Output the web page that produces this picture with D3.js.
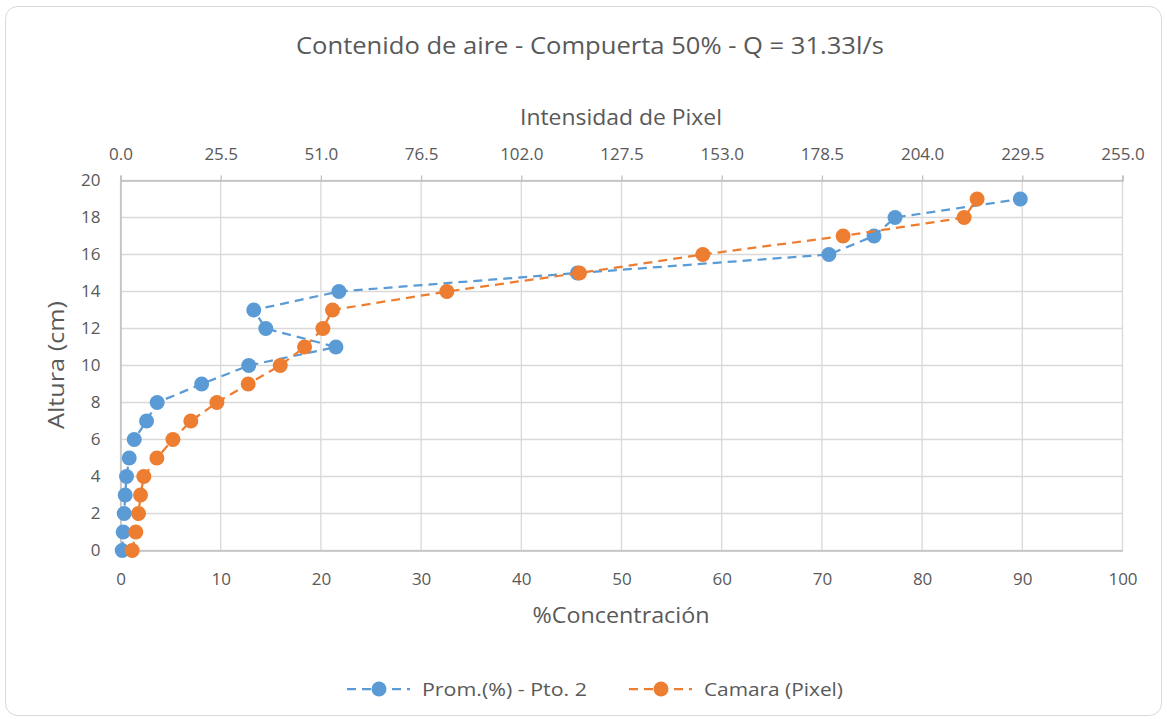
<!DOCTYPE html>
<html>
<head>
<meta charset="utf-8">
<script src="https://cdn.jsdelivr.net/npm/d3@7"></script>
<style>
  html, body { margin: 0; padding: 0; background: #fff; }
  svg text { font-family: "Open Sans", "Noto Sans", sans-serif; fill: #595959; }
</style>
</head>
<body>
<svg id="chart" width="1167" height="719"></svg>
<script>
// Heights (cm) shared by both series
const heights = [0, 1, 2, 3, 4, 5, 6, 7, 8, 9, 10, 11, 12, 13, 14, 15, 16, 17, 18, 19];
// Average air concentration (%) at point 2
const promValues = [0.17, 0.27, 0.37, 0.47, 0.6, 0.87, 1.37, 2.6, 3.66, 8.1, 12.8, 21.5, 14.5, 13.3, 21.8, 45.6, 70.7, 75.2, 77.3, 89.8];
// Camera pixel intensity (0-255)
const camaraValues = [2.98, 3.9, 4.59, 5.1, 5.94, 9.26, 13.34, 17.9, 24.53, 32.49, 40.65, 46.84, 51.51, 53.96, 83.05, 116.8, 148.2, 183.9, 214.7, 218.0];

const concTicks = [0, 10, 20, 30, 40, 50, 60, 70, 80, 90, 100];
const pixelTicks = [0, 25.5, 51, 76.5, 102, 127.5, 153, 178.5, 204, 229.5, 255];
const heightTicks = [0, 2, 4, 6, 8, 10, 12, 14, 16, 18, 20];

const seriesNames = ["Prom.(%) - Pto. 2", "Camara (Pixel)"];
const colors = ["#5B9BD5", "#ED7D31"];

const svg = d3.select("#chart");
const W = 1167, H = 719;
const plot = { left: 120.5, right: 1122.5, top: 180.5, bottom: 550.5 };

// outer chart frame
svg.append("rect")
  .attr("x", 5.5).attr("y", 6.5)
  .attr("width", W - 11).attr("height", H - 10)
  .attr("rx", 12).attr("ry", 12)
  .attr("fill", "#fff").attr("stroke", "#d9d9d9").attr("stroke-width", 1);

const xConc = d3.scaleLinear().domain([0, 100]).range([plot.left, plot.right]);
const xPix = d3.scaleLinear().domain([0, 255]).range([plot.left, plot.right]);
const y = d3.scaleLinear().domain([0, 20]).range([plot.bottom, plot.top]);

// gridlines
const grid = svg.append("g");
grid.selectAll("line.v").data(concTicks).join("line")
  .attr("x1", d => xConc(d)).attr("x2", d => xConc(d))
  .attr("y1", plot.top).attr("y2", plot.bottom)
  .attr("stroke", "#d9d9d9").attr("stroke-width", 1.3);
grid.selectAll("line.h").data(heightTicks).join("line")
  .attr("x1", plot.left).attr("x2", plot.right)
  .attr("y1", d => y(d)).attr("y2", d => y(d))
  .attr("stroke", "#d9d9d9").attr("stroke-width", 1.3);

// axes
const axisStyle = g => {
  g.select(".domain").attr("stroke", "#bfbfbf").attr("stroke-width", 1.5);
  g.selectAll(".tick line").attr("stroke", "#bfbfbf").attr("stroke-width", 1.3);
  g.selectAll(".tick text").style("font-size", "17px").attr("fill", "#595959");
};

svg.append("g")
  .attr("transform", `translate(0,${plot.bottom})`)
  .call(d3.axisBottom(xConc).tickValues(concTicks).tickSize(0).tickPadding(22).tickFormat(d3.format("d")))
  .call(axisStyle);

svg.append("g")
  .attr("transform", `translate(0,${plot.top})`)
  .call(d3.axisTop(xPix).tickValues(pixelTicks).tickSize(5).tickPadding(16).tickFormat(d3.format(".1f")))
  .call(axisStyle);

svg.append("g")
  .attr("transform", `translate(${plot.left},0)`)
  .call(d3.axisLeft(y).tickValues(heightTicks).tickSize(0).tickPadding(20).tickFormat(d3.format("d")))
  .call(axisStyle);

// titles
svg.append("text")
  .attr("x", 590).attr("y", 54).attr("text-anchor", "middle")
  .style("font-size", "23px")
  .attr("textLength", 588).attr("lengthAdjust", "spacingAndGlyphs")
  .text("Contenido de aire - Compuerta 50% - Q = 31.33l/s");

svg.append("text")
  .attr("x", 621).attr("y", 125).attr("text-anchor", "middle")
  .style("font-size", "21px")
  .attr("textLength", 202).attr("lengthAdjust", "spacingAndGlyphs")
  .text("Intensidad de Pixel");

svg.append("text")
  .attr("x", 621).attr("y", 623).attr("text-anchor", "middle")
  .style("font-size", "21px")
  .attr("textLength", 177).attr("lengthAdjust", "spacingAndGlyphs")
  .text("%Concentración");

svg.append("text")
  .attr("transform", "translate(64,365) rotate(-90)")
  .attr("text-anchor", "middle")
  .style("font-size", "21px")
  .attr("textLength", 128).attr("lengthAdjust", "spacingAndGlyphs")
  .text("Altura (cm)");

// series
const promData = heights.map((h, i) => ({ x: xConc(promValues[i]), y: y(h) }));
const camData = heights.map((h, i) => ({ x: xPix(camaraValues[i]), y: y(h) }));
const line = d3.line().x(d => d.x).y(d => d.y);

[promData, camData].forEach((data, k) => {
  const g = svg.append("g");
  g.append("path").datum(data)
    .attr("d", line).attr("fill", "none")
    .attr("stroke", colors[k]).attr("stroke-width", 2.25)
    .attr("stroke-dasharray", "9,6");
  g.selectAll("circle").data(data).join("circle")
    .attr("cx", d => d.x).attr("cy", d => d.y).attr("r", 7.5)
    .attr("fill", colors[k]);
});

// legend
const legendItems = [
  { x0: 347, name: seriesNames[0], color: colors[0], w: 165 },
  { x0: 629, name: seriesNames[1], color: colors[1], w: 139 }
];
const ly = 689;
legendItems.forEach(it => {
  const g = svg.append("g");
  g.append("line").attr("x1", it.x0).attr("x2", it.x0 + 63)
    .attr("y1", ly).attr("y2", ly)
    .attr("stroke", it.color).attr("stroke-width", 2.25)
    .attr("stroke-dasharray", "9,6");
  g.append("circle").attr("cx", it.x0 + 32).attr("cy", ly).attr("r", 7.5).attr("fill", it.color);
  g.append("text").attr("x", it.x0 + 75).attr("y", ly + 7)
    .style("font-size", "19px")
    .attr("textLength", it.w).attr("lengthAdjust", "spacingAndGlyphs")
    .text(it.name);
});
</script>
</body>
</html>
